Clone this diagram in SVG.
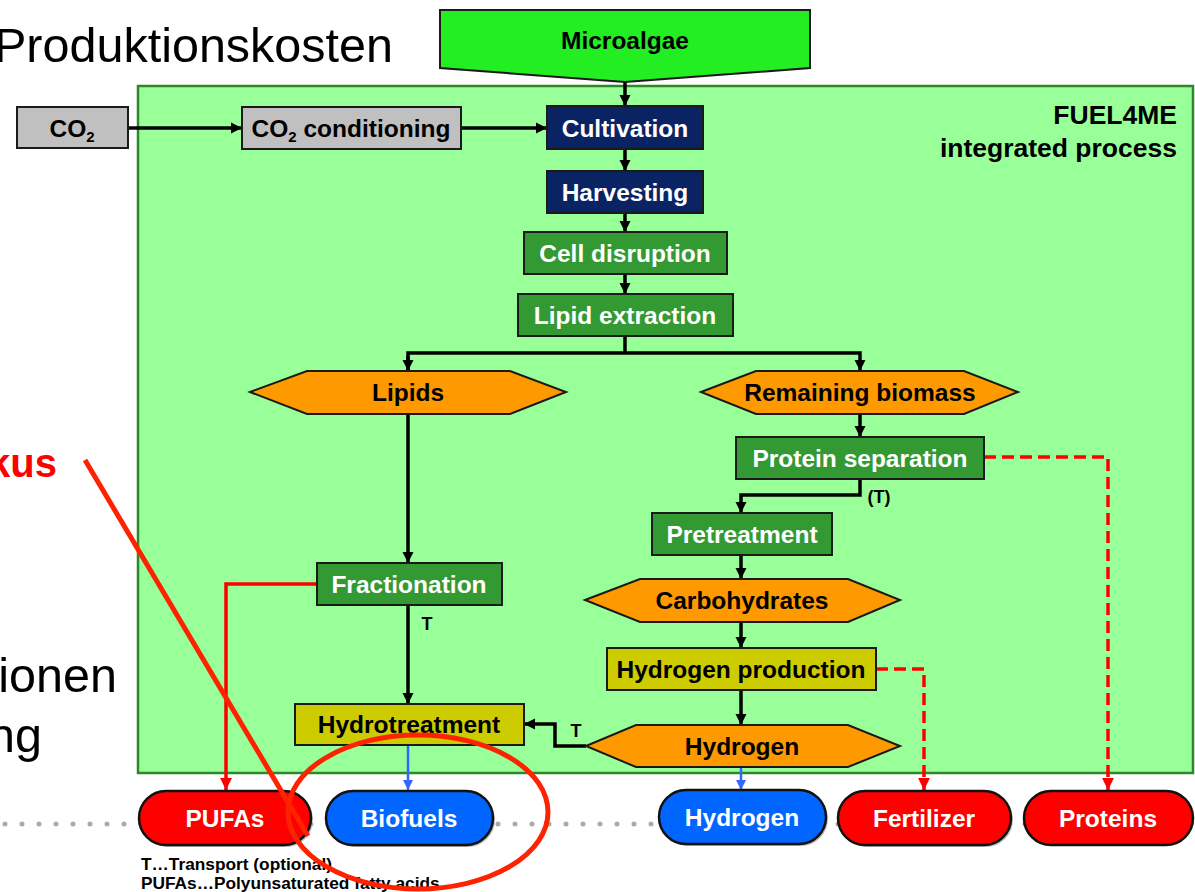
<svg xmlns="http://www.w3.org/2000/svg" width="1195" height="892" viewBox="0 0 1195 892">
<style>
.t{font-family:"Liberation Sans",Arial,sans-serif;font-weight:bold;font-size:24.5px;text-anchor:middle}
.w{fill:#fff}
.k{fill:#000}
.box{stroke:#1a1a1a;stroke-width:2}
.green{fill:#339933}
.navy{fill:#0a2463}
.gray{fill:#c0c0c0}
.yel{fill:#cccc00}
.hex{fill:#ff9900;stroke:#1a1a1a;stroke-width:2}
.pill{stroke:#111;stroke-width:2.5}
.shadow{fill:#bbbbbb}
.red{fill:#ff0000}
.blue{fill:#0066ff}
.c{fill:none;stroke:#000;stroke-width:3.5}
.cr{fill:none;stroke:#ff0000;stroke-width:3.5}
.cd{fill:none;stroke:#ff0000;stroke-width:3.5;stroke-dasharray:12 6}
.cb{fill:none;stroke:#3366ff;stroke-width:2.5}
.big{font-family:"Liberation Sans",Arial,sans-serif;font-size:48.5px;fill:#000}
.lg{font-family:"Liberation Sans",Arial,sans-serif;font-weight:bold;font-size:17.3px;fill:#000}
</style>
<defs>
<marker id="ak" viewBox="0 0 10 10" refX="10" refY="5" markerWidth="3.2" markerHeight="3.2" orient="auto" markerUnits="strokeWidth"><path d="M0,0 L10,5 L0,10 z" fill="#000"/></marker>
<marker id="ar" viewBox="0 0 10 10" refX="10" refY="5" markerWidth="3.4" markerHeight="3.4" orient="auto" markerUnits="strokeWidth"><path d="M0,0 L10,5 L0,10 z" fill="#ff0000"/></marker>
<marker id="ab" viewBox="0 0 10 10" refX="10" refY="5" markerWidth="4" markerHeight="4" orient="auto" markerUnits="strokeWidth"><path d="M0,0 L10,5 L0,10 z" fill="#3366ff"/></marker>
</defs>
<rect width="1195" height="892" fill="#fff"/>
<!-- side slide text -->
<text class="big" x="-6" y="62">Produktionskosten</text>
<text x="57" y="477" style="font-family:'Liberation Sans',Arial,sans-serif;font-weight:bold;font-size:40px;fill:#ff0000;text-anchor:end">kus</text>
<text class="big" x="117" y="692" text-anchor="end">ionen</text>
<text class="big" x="42" y="752" text-anchor="end">ng</text>

<!-- dotted line -->
<line x1="5" y1="824" x2="1195" y2="824" stroke="#aaaaaa" stroke-width="5" stroke-linecap="round" stroke-dasharray="0 17"/>

<!-- container -->
<g id="container">
<rect x="138" y="86" width="1055" height="687" fill="#99ff99" stroke="#2a8a2a" stroke-width="2.5"/>
<text class="t k" x="1177" y="124" style="text-anchor:end;font-size:26.5px">FUEL4ME</text>
<text class="t k" x="1177" y="157" style="text-anchor:end;font-size:26.5px">integrated process</text>
</g>

<g id="connectors">
<line class="c" x1="625" y1="82" x2="625" y2="106" marker-end="url(#ak)"/>
<line class="c" x1="128" y1="128" x2="242" y2="128" marker-end="url(#ak)"/>
<line class="c" x1="461" y1="128" x2="547" y2="128" marker-end="url(#ak)"/>
<line class="c" x1="625" y1="149" x2="625" y2="171" marker-end="url(#ak)"/>
<line class="c" x1="625" y1="213" x2="625" y2="232" marker-end="url(#ak)"/>
<line class="c" x1="625" y1="274" x2="625" y2="294" marker-end="url(#ak)"/>
<polyline class="c" points="625,336 625,353"/>
<polyline class="c" points="408,371 408,353 860,353 860,371" marker-end="url(#ak)"/>
<line class="c" x1="408" y1="356" x2="408" y2="371" marker-end="url(#ak)"/>
<line class="c" x1="408" y1="414" x2="408" y2="563" marker-end="url(#ak)"/>
<line class="c" x1="408" y1="605" x2="408" y2="704" marker-end="url(#ak)"/>
<line class="c" x1="860" y1="414" x2="860" y2="437" marker-end="url(#ak)"/>
<polyline class="c" points="860,479 860,495 741,495 741,513" marker-end="url(#ak)"/>
<line class="c" x1="741" y1="555" x2="741" y2="579" marker-end="url(#ak)"/>
<line class="c" x1="741" y1="622" x2="741" y2="648" marker-end="url(#ak)"/>
<line class="c" x1="741" y1="690" x2="741" y2="725" marker-end="url(#ak)"/>
<polyline class="c" points="586,746 555,746 555,724 524,724" marker-end="url(#ak)"/>
<polyline class="cr" points="317,584 226,584 226,790" marker-end="url(#ar)"/>
<polyline class="cd" points="984,457 1108,457 1108,790" marker-end="url(#ar)"/>
<polyline class="cd" points="876,669 924,669 924,790" marker-end="url(#ar)"/>
<line class="cb" x1="408" y1="745" x2="408" y2="790" marker-end="url(#ab)"/>
<line class="cb" x1="741" y1="767" x2="741" y2="790" marker-end="url(#ab)"/>
<text class="t k" x="427" y="630" style="font-size:18px">T</text>
<text class="t k" x="879" y="503" style="font-size:18px">(T)</text>
<text class="t k" x="576" y="737" style="font-size:18px">T</text>
</g>

<g id="microalgae"><polygon points="440,10 810,10 810,68 625,82 440,68" fill="#22ee22" stroke="#1a1a1a" stroke-width="2"/><text class="t k" x="625" y="49">Microalgae</text></g>
<g id="co2"><rect class="box gray" x="17" y="107" width="111" height="41"/><text class="t k" x="72" y="137">CO<tspan dy="5" style="font-size:15px">2</tspan></text></g>
<g id="co2cond"><rect class="box gray" x="242" y="107" width="219" height="42"/><text class="t k" x="351" y="137">CO<tspan dy="5" style="font-size:15px">2</tspan><tspan dy="-5"> conditioning</tspan></text></g>
<g id="cultivation"><rect class="box navy" x="547" y="106" width="156" height="43"/><text class="t w" x="625" y="137">Cultivation</text></g>
<g id="harvesting"><rect class="box navy" x="547" y="171" width="156" height="42"/><text class="t w" x="625" y="201">Harvesting</text></g>
<g id="celldisruption"><rect class="box green" x="524" y="232" width="203" height="42"/><text class="t w" x="625" y="262">Cell disruption</text></g>
<g id="lipidextraction"><rect class="box green" x="518" y="294" width="215" height="42"/><text class="t w" x="625" y="324">Lipid extraction</text></g>
<g id="lipids"><polygon class="hex" points="250,392 307,371 510,371 566,392 510,414 307,414"/><text class="t k" x="408" y="401">Lipids</text></g>
<g id="remaining"><polygon class="hex" points="701,392 756,371 964,371 1018,392 964,414 756,414"/><text class="t k" x="860" y="401">Remaining biomass</text></g>
<g id="proteinsep"><rect class="box green" x="736" y="437" width="248" height="42"/><text class="t w" x="860" y="467">Protein separation</text></g>
<g id="pretreatment"><rect class="box green" x="652" y="513" width="180" height="42"/><text class="t w" x="742" y="543">Pretreatment</text></g>
<g id="carbohydrates"><polygon class="hex" points="585,600 640,579 848,579 900,600 848,622 640,622"/><text class="t k" x="742" y="609">Carbohydrates</text></g>
<g id="h2prod"><rect class="box yel" x="607" y="648" width="269" height="42"/><text class="t k" x="741" y="678">Hydrogen production</text></g>
<g id="hydrogenhex"><polygon class="hex" points="586,746 636,725 848,725 900,746 848,767 636,767"/><text class="t k" x="742" y="755">Hydrogen</text></g>
<g id="fractionation"><rect class="box green" x="317" y="563" width="185" height="42"/><text class="t w" x="409" y="593">Fractionation</text></g>
<g id="hydrotreatment"><rect class="box yel" x="295" y="704" width="229" height="41"/><text class="t k" x="409" y="733">Hydrotreatment</text></g>

<g id="pufas"><rect class="shadow" x="141" y="793" width="172" height="54" rx="27"/><rect class="pill red" x="139" y="791" width="172" height="54" rx="27"/><text class="t w" x="225" y="827">PUFAs</text></g>
<g id="biofuels"><rect class="shadow" x="328" y="793" width="167" height="54" rx="27"/><rect class="pill blue" x="326" y="791" width="167" height="54" rx="27"/><text class="t w" x="409" y="827">Biofuels</text></g>
<g id="hydrogen"><rect class="shadow" x="661" y="792" width="167" height="54" rx="27"/><rect class="pill blue" x="659" y="790" width="167" height="54" rx="27"/><text class="t w" x="742" y="826">Hydrogen</text></g>
<g id="fertilizer"><rect class="shadow" x="840" y="793" width="173" height="54" rx="27"/><rect class="pill red" x="838" y="791" width="173" height="54" rx="27"/><text class="t w" x="924" y="827">Fertilizer</text></g>
<g id="proteins"><rect class="pill red" x="1024" y="791" width="169" height="54" rx="27"/><text class="t w" x="1108" y="827">Proteins</text></g>

<g id="legend">
<text class="lg" x="141" y="870">T…Transport (optional)</text>
<text class="lg" x="141" y="889">PUFAs…Polyunsaturated fatty acids</text>
</g>

<g id="annotation">
<line x1="85" y1="460" x2="308" y2="836" stroke="#ff2200" stroke-width="5"/>
<ellipse cx="418" cy="812" rx="130" ry="77" fill="none" stroke="#ff2200" stroke-width="5"/>
</g>
</svg>
